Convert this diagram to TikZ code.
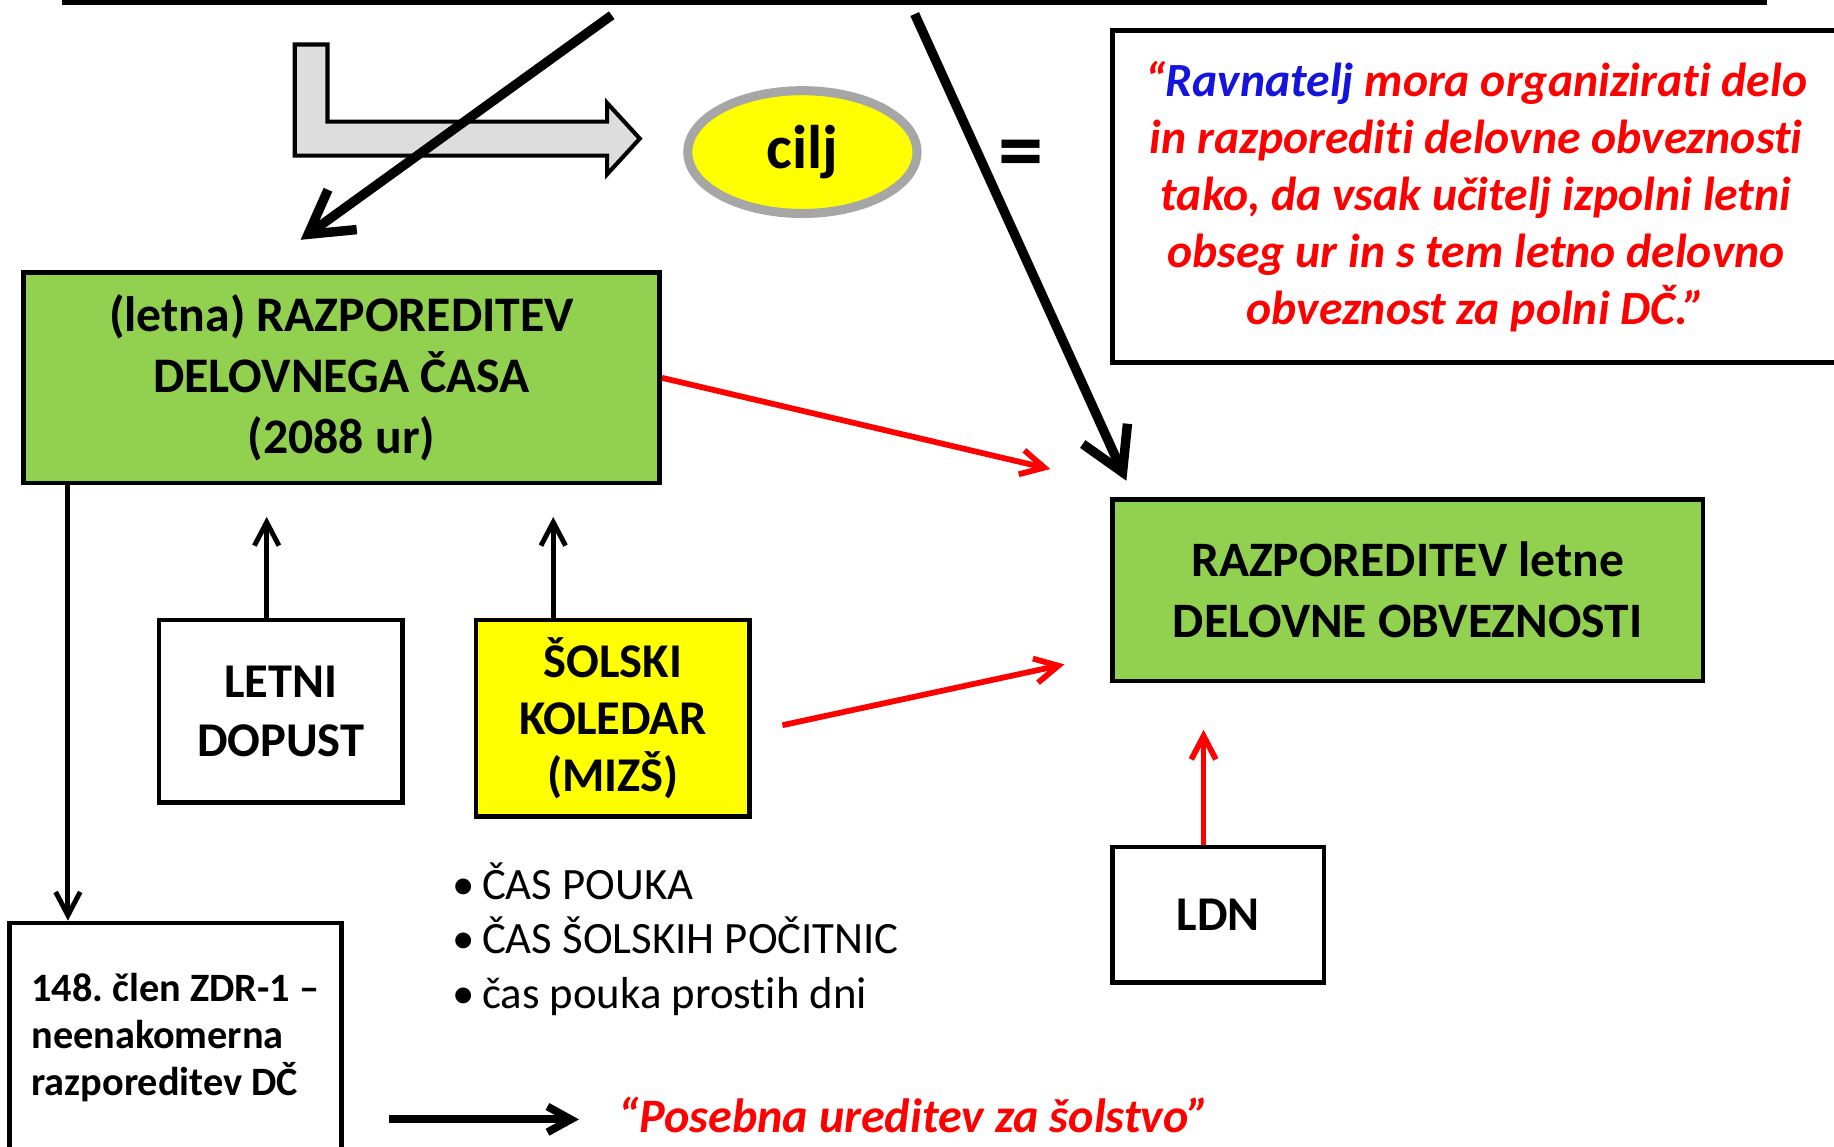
\documentclass[tikz,border=0pt]{standalone}
\usepackage{fontspec}
\setmainfont{Carlito}[Ligatures=NoCommon]
\frenchspacing
\usetikzlibrary{positioning,arrows.meta,shapes.geometric}

\definecolor{boxgreen}{RGB}{146,208,80}
\definecolor{boxyellow}{RGB}{255,255,0}
\definecolor{arrowgray}{RGB}{221,221,221}
\definecolor{ringgray}{RGB}{166,166,166}
\definecolor{quotered}{RGB}{255,0,0}
\definecolor{quoteblue}{RGB}{20,20,220}

\tikzset{
  bigarrow/.style={line width=2.3pt,-{Straight Barb[length=3.6mm,width=4.2mm]}},
  thinarrow/.style={line width=1.2pt,-{Straight Barb[length=2mm,width=2.1mm]}},
  redarrow/.style={thinarrow,line width=1.4pt,color=quotered},
}

\begin{document}
\begin{tikzpicture}
    \useasboundingbox (0,0) rectangle (15.68,-9.80);
    % lower edge of the box above
    \node (titlebox) [draw,line width=1.3pt,minimum width=14.53cm,minimum height=1cm] at (7.815,0.48) {};
    % bent block arrow
    \draw[fill=arrowgray,line width=1pt,line join=miter]
      (2.52,-0.38) -- (2.80,-0.38) -- (2.80,-1.04) -- (5.19,-1.04) -- (5.19,-0.88)
      -- (5.47,-1.185) -- (5.19,-1.49) -- (5.19,-1.33) -- (2.52,-1.33) -- cycle;
    \coordinate (lefttop) at (5.23,-0.13);
    \coordinate (lefttip) at (2.57,-2.05);
    \coordinate (righttop) at (7.82,-0.12);
    \coordinate (righttip) at (9.63,-4.11);
    \coordinate (redtip1) at (8.98,-4.01);
    \coordinate (redtip2) at (9.10,-5.68);
    \node (cilj) [ellipse,draw=ringgray,line width=2.2pt,fill=boxyellow,
      minimum width=1.96cm,minimum height=1.05cm,
      font=\bfseries\fontsize{15}{18}\selectfont] at (6.86,-1.30) {cilj};
    \node (eq) [font=\bfseries\fontsize{22}{26}\selectfont] at (8.73,-1.37) {=};
    \node (quote) [draw,line width=1.3pt,minimum width=6.22cm,minimum height=2.84cm,align=center,
      text=quotered,font=\bfseries\itshape\fontsize{11.6}{13.9}\selectfont] at (12.62,-1.68)
      {“{\color{quoteblue}Ravnatelj} mora organizirati delo\\
       in razporediti delovne obveznosti\\
       tako, da vsak učitelj izpolni letni\\
       obseg ur in s tem letno delovno\\
       obveznost za polni DČ.”};
    \begin{scope}[every node/.style={draw,line width=1.1pt,align=center,inner sep=0pt,
        font=\bfseries\fontsize{11.8}{14.4}\selectfont}]
      \node (gbox1) [fill=boxgreen,minimum width=5.44cm,minimum height=1.80cm,
        font=\bfseries\fontsize{12.1}{14.8}\selectfont] at (2.92,-3.23)
        {(letna) RAZPOREDITEV\\ DELOVNEGA ČASA\\ (2088 ur)};
      \node (letni) [minimum width=2.08cm,minimum height=1.56cm] at (2.40,-6.08) {LETNI\\ DOPUST};
      \node (solski) [fill=boxyellow,minimum width=2.34cm,minimum height=1.68cm,
        font=\bfseries\fontsize{11.8}{13.9}\selectfont] at (5.24,-6.14) {ŠOLSKI\\ KOLEDAR\\ (MIZŠ)};
      \node (gbox2) [fill=boxgreen,minimum width=5.05cm,minimum height=1.55cm,
        font=\bfseries\fontsize{12.05}{14.8}\selectfont] at (12.035,-5.045)
        {RAZPOREDITEV letne\\ DELOVNE OBVEZNOSTI};
      \node (ldn) [minimum width=1.81cm,minimum height=1.16cm] at (10.415,-7.82) {LDN};
      \node (clen) [minimum width=2.84cm,minimum height=1.96cm,align=left,
        font=\bfseries\fontsize{9.8}{11.4}\selectfont] at (1.50,-8.87)
        {148. člen ZDR-1 –\\ neenakomerna\\ razporeditev DČ};
    \end{scope}
    \node (bullets) [anchor=west,align=left,inner sep=0pt,
      font=\fontsize{10.9}{13.2}\selectfont] at (3.86,-8.03)
      {•\,ČAS POUKA\\ •\,ČAS ŠOLSKIH POČITNIC\\ •\,čas pouka prostih dni};
    \node (posebna) [anchor=west,inner sep=0pt,text=quotered,
      font=\bfseries\itshape\fontsize{11.7}{14}\selectfont] at (5.28,-9.53)
      {“Posebna ureditev za šolstvo”};
    % connectors
    \path (lefttop) edge[bigarrow] (lefttip);
    \path (righttop) edge[bigarrow] (righttip);
    \path ([xshift=4mm]gbox1.south west) edge[thinarrow]
      ([xshift=4mm]gbox1.south west |- clen.north);
    \path ([xshift=-1.2mm]letni.north) edge[thinarrow,shorten >=2.7mm]
      ([xshift=-1.2mm]letni.north |- gbox1.south);
    \path ([xshift=-5.1mm]solski.north) edge[thinarrow,shorten >=2.7mm]
      ([xshift=-5.1mm]solski.north |- gbox1.south);
    \path ([yshift=-0.4mm]posebna.west -| clen.east) edge[line width=1.9pt,
      -{Straight Barb[length=2mm,width=2.2mm]},shorten <=3.9mm,shorten >=3.3mm]
      ([yshift=-0.4mm]posebna.west);
    \path (gbox1.east) edge[redarrow] (redtip1);
    \path ([xshift=2.6mm,yshift=-0.6mm]solski.east) edge[redarrow] (redtip2);
    \path ([xshift=-1.25mm]ldn.north) edge[redarrow,shorten >=4mm]
      ([xshift=-1.25mm]ldn.north |- gbox2.south);
\end{tikzpicture}
\end{document}
